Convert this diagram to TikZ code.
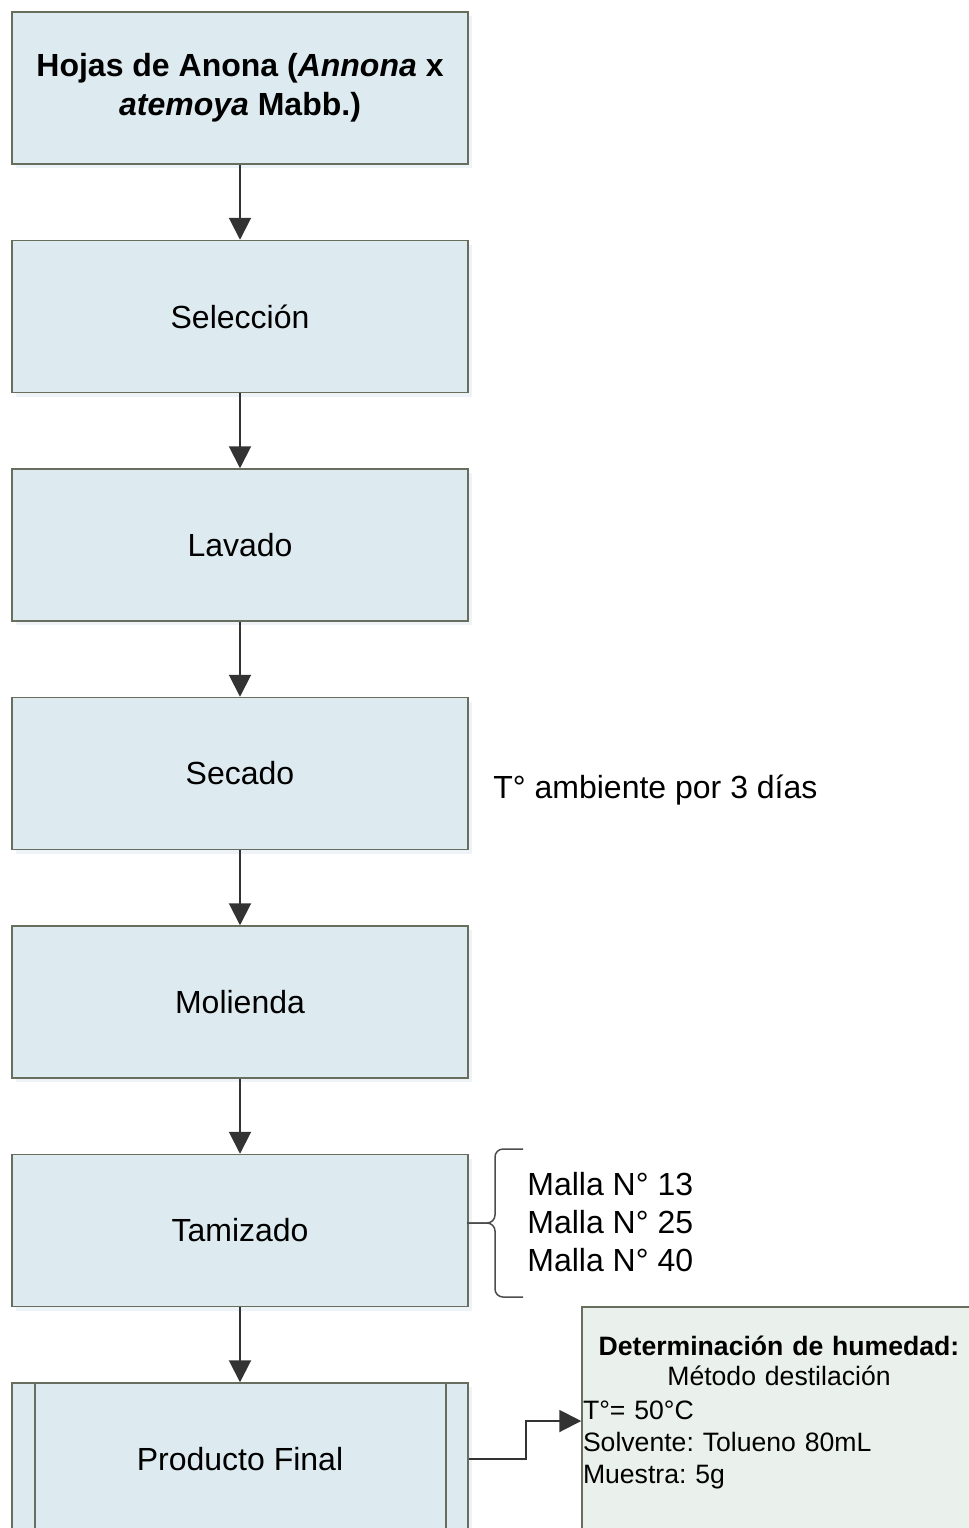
\documentclass[tikz,border=0pt]{standalone}
\usepackage{fontspec}
\setmainfont{Liberation Sans}
\usepackage{tikz}
\usetikzlibrary{arrows.meta,shadows}
\frenchspacing

\definecolor{boxfill}{RGB}{221,235,240}
\definecolor{boxline}{RGB}{104,110,94}
\definecolor{notefill}{RGB}{234,240,236}
\definecolor{shadowfill}{RGB}{237,243,246}
\definecolor{arrowline}{RGB}{51,51,51}

\begin{document}
\begin{tikzpicture}[x=0.5pt,y=-0.5pt,
    stage/.style={rectangle,draw=boxline,line width=0.75pt,fill=boxfill,minimum width=228pt,minimum height=76pt,align=center,font=\fontsize{16}{19.5}\selectfont,copy shadow={shadow xshift=2pt,shadow yshift=-2pt,draw=none,fill=shadowfill,opacity=1}},
    procbox/.style={stage,path picture={\draw[boxline,line width=0.75pt] ([xshift=11.5pt]path picture bounding box.north west) -- ([xshift=11.5pt]path picture bounding box.south west) ([xshift=-11pt]path picture bounding box.north east) -- ([xshift=-11pt]path picture bounding box.south east);}},
    note/.style={rectangle,draw=boxline,line width=0.75pt,fill=notefill,minimum width=197pt,minimum height=114pt,text width=196pt,inner xsep=0.5pt,align=left,font=\fontsize{13.3}{16}\selectfont},
    side/.style={inner sep=0pt,align=left,font=\fontsize{16}{19}\selectfont},
    flow/.style={draw=arrowline,line width=1pt,-{Triangle[length=11pt,width=11pt]}},
    curly/.style={draw=black!70,line width=0.75pt,rounded corners=4pt}]
    \useasboundingbox (0,0) rectangle (969,1528);
    \clip (0,0) rectangle (969,1528);

    \node[stage] (hojas) at (240,88) {\bfseries Hojas de Anona ({\itshape Annona} x\\\bfseries{\itshape atemoya} Mabb.)};
    \node[stage] (seleccion) at (240,316.5) {Selección};
    \node[stage] (lavado) at (240,545) {Lavado};
    \node[stage] (secado) at (240,773.5) {Secado};
    \node[stage] (molienda) at (240,1002) {Molienda};
    \node[stage] (tamizado) at (240,1230.5) {Tamizado};
    \node[procbox] (final) at (240,1459) {Producto Final};
    \node[note] (humedad) at (779,1421) {\makebox[\hsize]{\bfseries Determinación de humedad:}\\[-1pt]\makebox[\hsize]{Método destilación}\\[1pt]T°= 50°C\\Solvente: Tolueno 80mL\\Muestra: 5g\rule[-11pt]{0pt}{11pt}};

    \node[side,anchor=base west] (ambiente) at (493,798) {T° ambiente por 3 días};
    \node[side,anchor=west] (mallas) at (527,1222) {Malla N° 13\\Malla N° 25\\Malla N° 40};

    \draw[flow] (hojas) -- (seleccion);
    \draw[flow] (seleccion) -- (lavado);
    \draw[flow] (lavado) -- (secado);
    \draw[flow] (secado) -- (molienda);
    \draw[flow] (molienda) -- (tamizado);
    \draw[flow] (tamizado) -- (final);
    \draw[flow] (final.east) -- ++(57,0) |- (humedad.west);

    \draw[curly] (523,1149) -- (495,1149) -- (495,1223) -- (467,1223);
    \draw[curly] (523,1297) -- (495,1297) -- (495,1223) -- (467,1223);

\end{tikzpicture}
\end{document}
